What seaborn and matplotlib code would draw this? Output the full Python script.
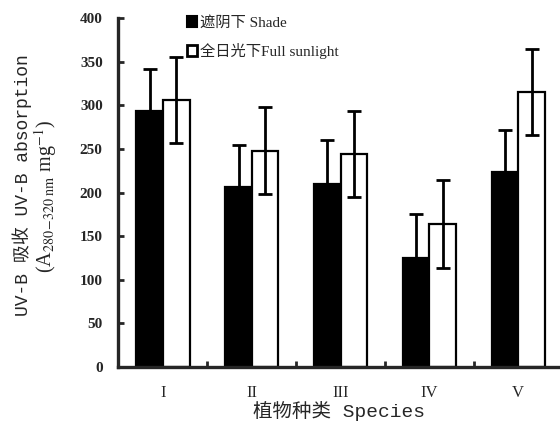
import matplotlib
matplotlib.use("Agg")
import matplotlib.pyplot as plt
import seaborn as sns
import pandas as pd
import numpy as np
from matplotlib.patches import Patch

species = ["I", "II", "III", "IV", "V"]
shade_vals = [293, 206, 210, 125, 223]
full_vals = [306, 248, 244, 164, 315]
shade_err = [48, 48, 50, 50, 49]
full_err = [49, 50, 49, 50, 49]
groups = ["遮阴下 Shade", "全日光下Full sunlight"]
y_ticks = [0, 50, 100, 150, 200, 250, 300, 350, 400]

sns.set_style("ticks")
plt.rcParams["font.family"] = ["Liberation Serif", "Noto Sans CJK SC"]
plt.rcParams["mathtext.fontset"] = "stix"

df = pd.DataFrame({
    "species": species * 2,
    "group": [groups[0]] * 5 + [groups[1]] * 5,
    "value": shade_vals + full_vals,
    "err": shade_err + full_err,
})

fig = plt.figure(figsize=(5.6, 4.3), dpi=100)
ax = fig.add_axes([118 / 560, (430 - 367) / 430, 442 / 560, 349 / 430])

sns.barplot(data=df, x="species", y="value", hue="group", order=species,
            hue_order=groups, palette=["black", "white"], width=0.6,
            edgecolor="black", linewidth=1.6, errorbar=None, legend=False, ax=ax)

# error bars at the bar centres computed by seaborn
bars = [p for p in ax.patches if p.get_height() > 0]
bars_sorted = sorted(bars, key=lambda p: p.get_x())
errs_map = {}
for vals, errs in [(shade_vals, shade_err), (full_vals, full_err)]:
    for v, e in zip(vals, errs):
        errs_map.setdefault(v, []).append(e)
for p in bars_sorted:
    h = p.get_height()
    e = errs_map[round(h)].pop(0)
    cx = p.get_x() + p.get_width() / 2
    ax.errorbar(cx, h, yerr=e, fmt="none", ecolor="black", elinewidth=2.0,
                capsize=4.7, capthick=2.0, zorder=5)

ax.set_ylim(0, 400)
ax.set_xlim(-0.507, 4.47)
ax.set_yticks(y_ticks)
ax.set_yticklabels([str(t) for t in y_ticks], fontsize=11, fontweight="bold")
ax.set_xticks(range(len(species)))
ax.set_xticklabels(species, fontsize=12)
ax.set_xticks([0.5, 1.5, 2.5, 3.5], minor=True)
ax.tick_params(axis="x", which="major", length=0, pad=13)
ax.tick_params(axis="x", which="minor", direction="in", length=4, width=2)
ax.tick_params(axis="y", direction="in", length=4, width=2, pad=11)
for s in ["left", "bottom"]:
    ax.spines[s].set_linewidth(2.4)
sns.despine(ax=ax)

ax.set_xlabel("植物种类 Species", fontsize=14, labelpad=0,
              family=["Liberation Mono", "Noto Sans CJK SC"])
ax.set_ylabel("")

fig.text(22 / 560, 1 - 185 / 430, "UV-B 吸收 UV-B absorption", rotation=90,
         ha="center", va="center", fontsize=13,
         family=["Liberation Mono", "Noto Sans CJK SC"])
fig.text(46 / 560, 1 - 197 / 430, r"(A$_{\mathrm{280\!-\!320\ nm}}$ mg$^{-1}$)",
         rotation=90, ha="center", va="center", fontsize=14.5,
         family=["Liberation Serif", "Noto Sans CJK SC"])

handles = [Patch(facecolor="black", edgecolor="black", linewidth=1.5),
           Patch(facecolor="white", edgecolor="black", linewidth=2)]
leg = ax.legend(handles, groups, loc="upper left",
                bbox_to_anchor=((179 - 118) / 442, 1 + 10 / 349),
                frameon=False, handlelength=0.7, handleheight=0.8,
                handletextpad=0.2, labelspacing=0.85, borderpad=0,
                prop={"size": 11, "weight": "medium"})

fig.savefig("out.png", dpi=100)
